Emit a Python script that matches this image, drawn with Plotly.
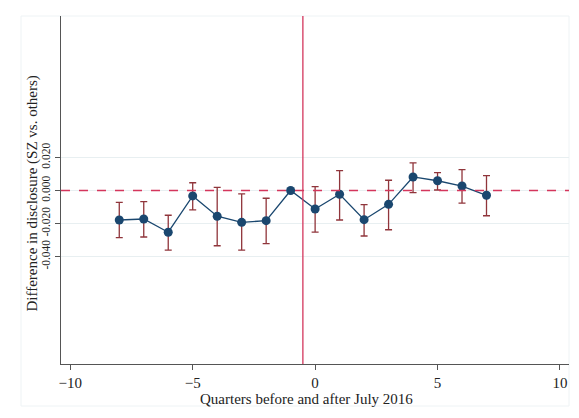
import plotly.graph_objects as go

quarters = [-8, -7, -6, -5, -4, -3, -2, -1, 0, 1, 2, 3, 4, 5, 6, 7]
estimate = [-0.0179, -0.0173, -0.0253, -0.0033, -0.0156, -0.0193, -0.0183, 0.0,
            -0.0112, -0.0023, -0.0177, -0.0084, 0.0082, 0.0059, 0.0027, -0.0029]
ci_high = [-0.0072, -0.0068, -0.0150, 0.0047, 0.0019, -0.0021, -0.0047, None,
           0.0023, 0.0120, -0.0086, 0.0062, 0.0168, 0.0108, 0.0126, 0.0090]
ci_low = [-0.0286, -0.0282, -0.0361, -0.0118, -0.0335, -0.0362, -0.0322, None,
          -0.0253, -0.0179, -0.0276, -0.0238, -0.0013, 0.0003, -0.0076, -0.0153]
x_ticks = [-10, -5, 0, 5, 10]
y_ticks = [-0.04, -0.02, 0.0, 0.02]
y_tick_labels = ["-0.040", "-0.020", "0.000", "0.020"]
event_x = -0.5
x_title = "Quarters before and after July 2016"
y_title = "Difference in disclosure (SZ vs. others)"

NAVY = "#1a476f"
CRAN = "#90353b"
RED = "#d4365c"
FONT = "Liberation Serif"

eb_x, eb_y, eb_plus, eb_minus = [], [], [], []
for q, e, hi, lo in zip(quarters, estimate, ci_high, ci_low):
    if hi is None:
        continue
    eb_x.append(q)
    eb_y.append(e)
    eb_plus.append(hi - e)
    eb_minus.append(e - lo)

fig = go.Figure()
fig.add_trace(go.Scatter(
    x=eb_x, y=eb_y, mode="markers",
    marker=dict(size=1, opacity=0),
    error_y=dict(type="data", array=eb_plus, arrayminus=eb_minus, symmetric=False,
                 color=CRAN, thickness=1.3, width=3.5),
    showlegend=False, hoverinfo="skip"))
fig.add_trace(go.Scatter(
    x=quarters, y=estimate, mode="lines+markers",
    line=dict(color=NAVY, width=1.3),
    marker=dict(color=NAVY, size=9),
    showlegend=False))

fig.add_shape(type="line", xref="x", yref="paper", x0=event_x, x1=event_x, y0=0, y1=1,
              line=dict(color=RED, width=1.3))
fig.add_shape(type="line", xref="paper", yref="y", x0=0, x1=1, y0=0, y1=0,
              line=dict(color=RED, width=1.5, dash="dash"))
# faint frame
fig.add_shape(type="rect", xref="paper", yref="paper", x0=-0.0787, x1=1.0, y0=-0.1207, y1=1.0,
              line=dict(color="#eef3f5", width=1), layer="below")

fig.add_annotation(text=x_title, xref="paper", yref="paper", x=0.483, y=-0.1,
                   xanchor="center", yanchor="middle", showarrow=False,
                   font=dict(family=FONT, size=15, color="#222"))
fig.add_annotation(text=y_title, xref="paper", yref="paper", x=-0.057, y=0.49,
                   xanchor="center", yanchor="middle", showarrow=False, textangle=-90,
                   font=dict(family=FONT, size=15, color="#222"))

fig.update_layout(
    width=571, height=410,
    margin=dict(l=53, r=10, t=8, b=54, autoexpand=False),
    paper_bgcolor="white", plot_bgcolor="white",
    font=dict(family=FONT, size=14, color="#222"),
    xaxis=dict(range=[-10.38, 10.37], tickvals=x_ticks, ticks="outside", ticklen=5,
               tickcolor="#555", showline=True, linecolor="#555", linewidth=1.2,
               showgrid=False, zeroline=False, automargin=False,
               tickfont=dict(family=FONT, size=15, color="#222")),
    yaxis=dict(range=[-0.1052, 0.1058], tickvals=y_ticks, ticktext=y_tick_labels,
               tickangle=-90, ticks="outside", ticklen=5, tickcolor="#555",
               showline=True, linecolor="#555", linewidth=1.2, automargin=False,
               showgrid=True, gridcolor="#e8eff1", gridwidth=1, zeroline=False,
               tickfont=dict(family=FONT, size=11.5, color="#222")),
)

fig.write_html("out.html")
